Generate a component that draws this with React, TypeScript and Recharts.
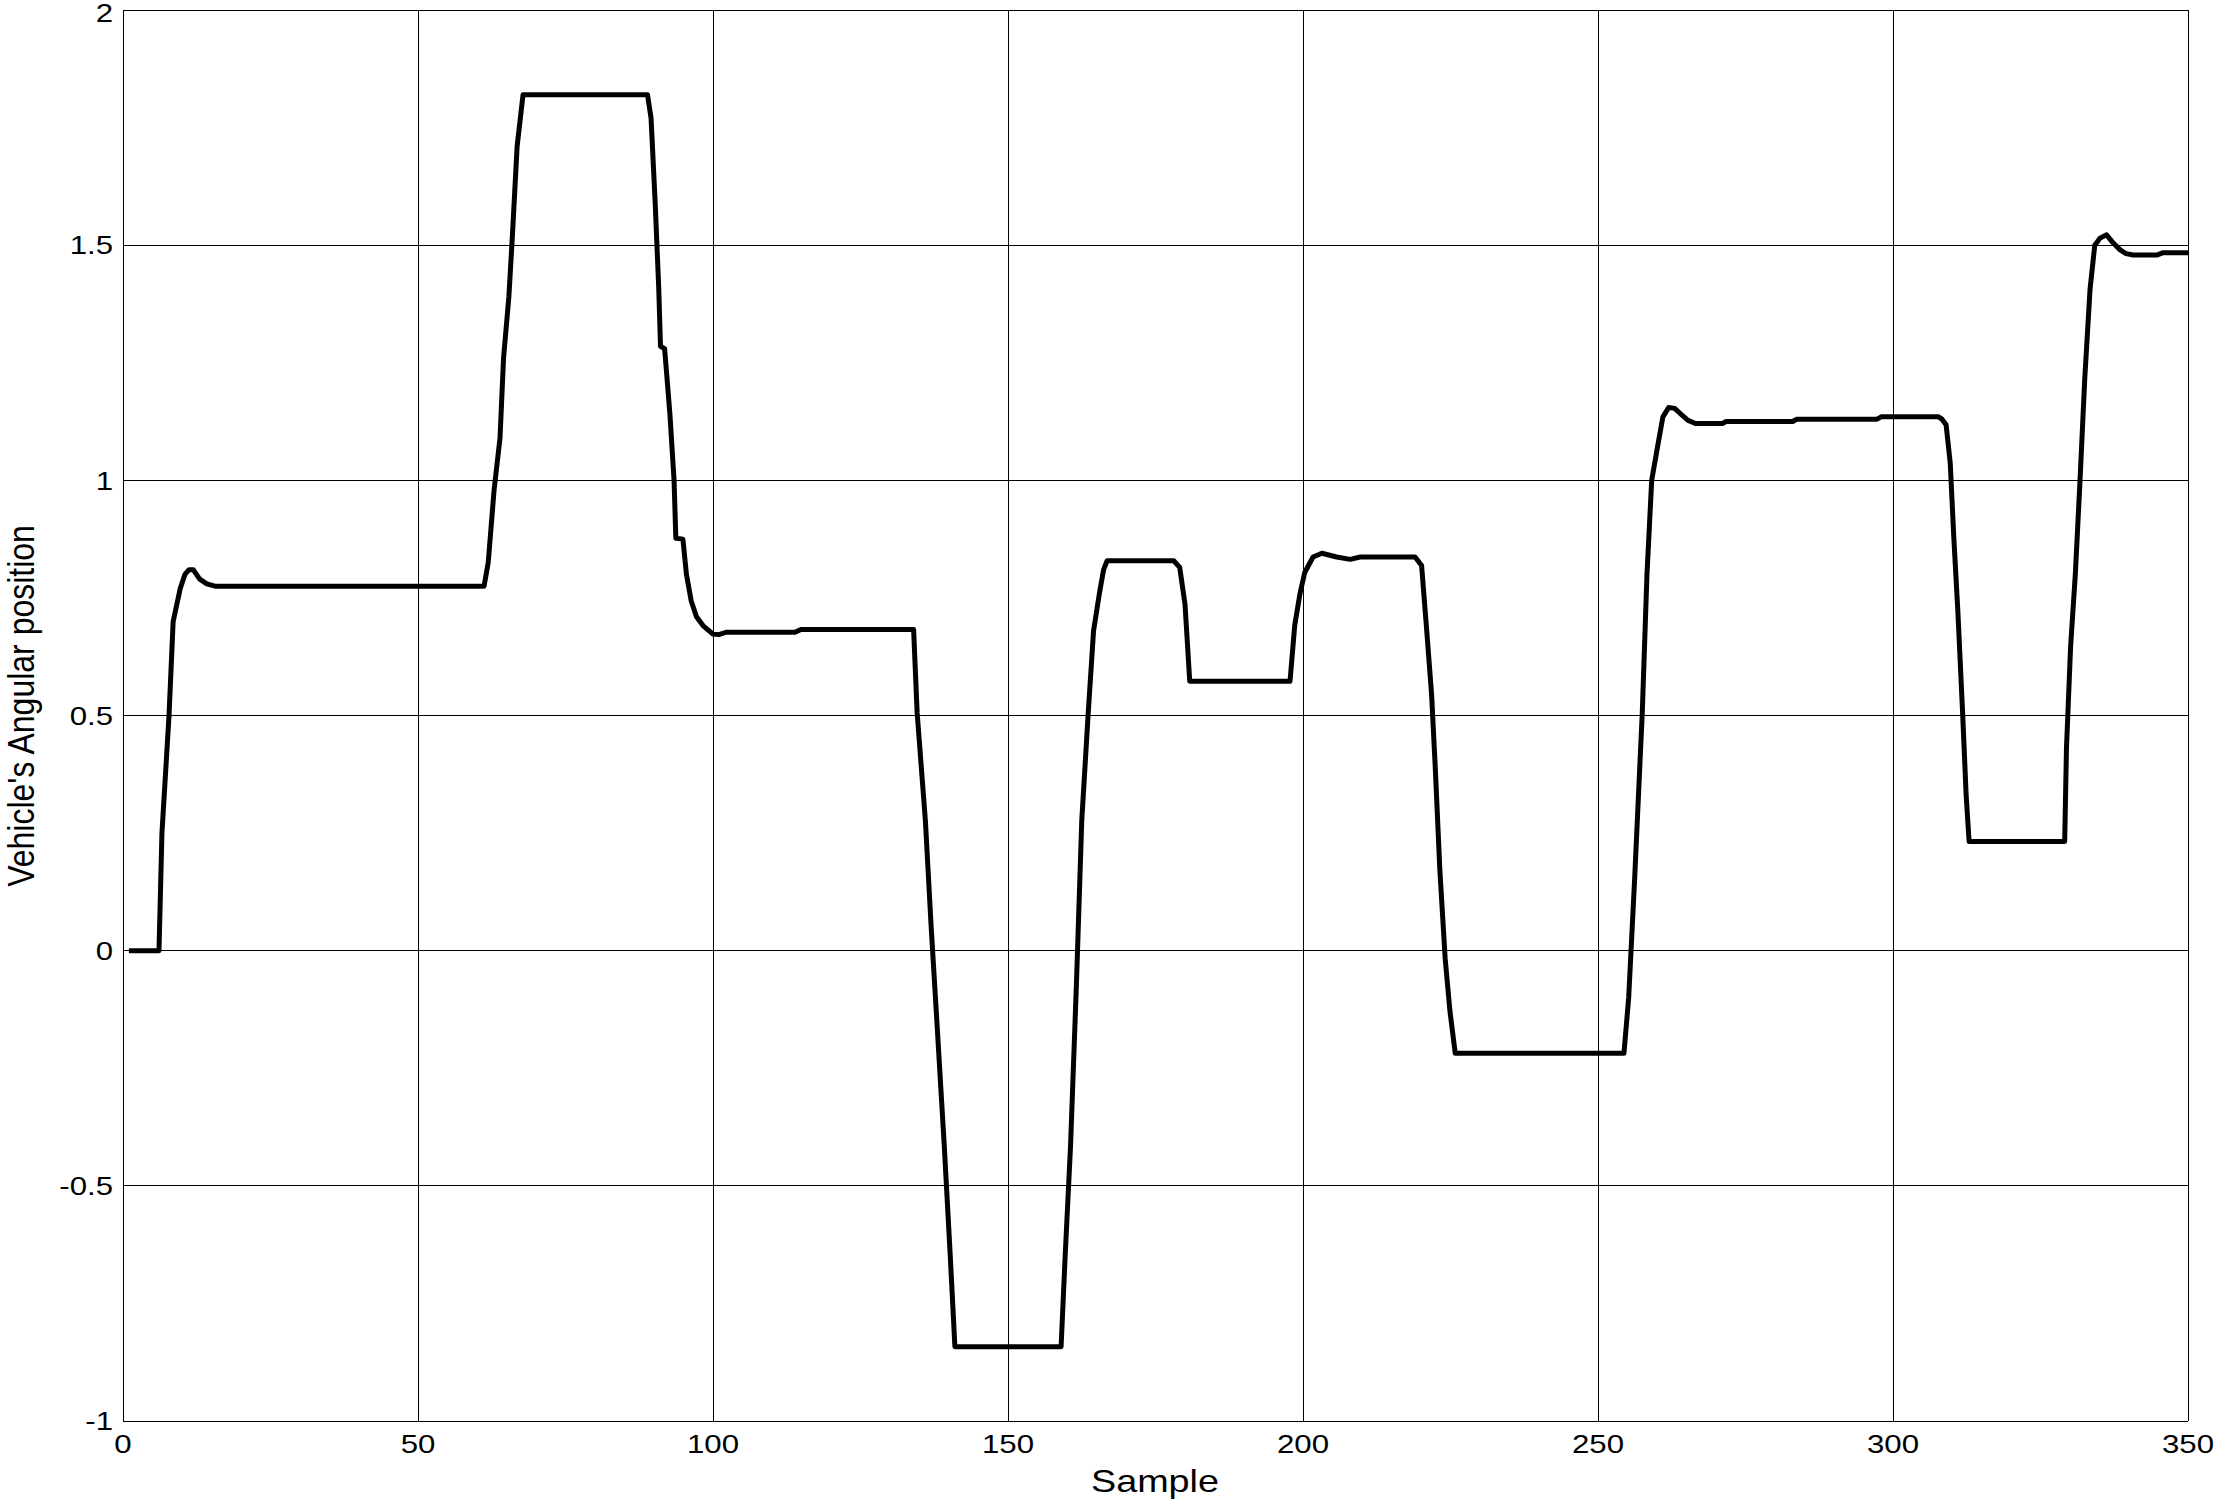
import { LineChart, Line, XAxis, YAxis, CartesianGrid } from 'recharts'

// ─── data ───────────────────────────────────────────

const sampleX = [
  1, 6.1, 6.6, 7.8, 8.5, 9.7, 10.5, 11.2, 11.9, 13, 14.2, 15.6, 61.2, 61.9, 62.9, 63.9, 64.5,
  65.4, 66, 66.8, 67.8, 88.9, 89.5, 90.2, 90.8, 91.1, 91.8, 92.7, 93.4, 93.7, 94.9, 95.5, 96.3,
  97.2, 98.4, 100, 101, 102.2, 113.9, 114.9, 134, 134.6, 136, 137, 138, 138.6, 139.2, 140.2, 141,
  159, 159.7, 160.6, 161.6, 162.5, 163.6, 164.5, 165.5, 166.2, 166.8, 178.1, 179.1, 180, 180.8,
  197.8, 198.6, 199.5, 200.3, 201.7, 203.2, 205.7, 208, 209.7, 219, 220.1, 220.9, 221.8, 222.4,
  223.2, 224.1, 224.9, 225.8, 254.4, 255.2, 256.2, 257.5, 258.3, 259.1, 260.1, 261, 262, 263,
  264.2, 265.2, 266.5, 271.1, 271.7, 283, 283.7, 297.3, 298, 307.7, 308.3, 309, 309.7, 310.3,
  311, 311.8, 312.4, 312.9, 329.1, 329.4, 330.1, 330.9, 331.7, 332.5, 333.4, 334.2, 335.1, 336.2,
  337.3, 338.5, 339.5, 340.7, 344.7, 345.8, 350,
]

const angularPosition = [
  0, 0, 0.25, 0.5, 0.7, 0.77, 0.8, 0.81, 0.81, 0.79, 0.78, 0.775, 0.775, 0.825, 0.98, 1.09, 1.26,
  1.39, 1.52, 1.71, 1.82, 1.82, 1.77, 1.59, 1.41, 1.285, 1.28, 1.14, 1.0, 0.877, 0.875, 0.8, 0.744,
  0.71, 0.69, 0.673, 0.672, 0.677, 0.677, 0.683, 0.683, 0.506, 0.276, 0.046, -0.162, -0.289, -0.415,
  -0.646, -0.842, -0.842, -0.646, -0.415, -0.07, 0.276, 0.506, 0.68, 0.76, 0.81, 0.829, 0.829,
  0.815, 0.737, 0.573, 0.573, 0.692, 0.76, 0.804, 0.837, 0.845, 0.837, 0.832, 0.837, 0.837, 0.819,
  0.692, 0.544, 0.394, 0.17, -0.017, -0.128, -0.218, -0.218, -0.1, 0.15, 0.505, 0.8, 1.0, 1.072,
  1.135, 1.155, 1.153, 1.139, 1.128, 1.121, 1.121, 1.125, 1.125, 1.13, 1.13, 1.135, 1.135, 1.13,
  1.118, 1.037, 0.88, 0.72, 0.505, 0.33, 0.232, 0.232, 0.43, 0.646, 0.8, 1.0, 1.216, 1.407, 1.5,
  1.515, 1.522, 1.505, 1.49, 1.482, 1.479, 1.479, 1.484, 1.484,
]

const xTicks = [0, 50, 100, 150, 200, 250, 300, 350]
const yTicks = [-1, -0.5, 0, 0.5, 1, 1.5, 2]

const FONT = '"Liberation Sans", Arial, Helvetica, sans-serif'
// the source figure is stretched a bit horizontally
const STRETCH = 1.2

function XTick({ x, y, payload }: any) {
  return (
    <g transform={`translate(${x},${y}) scale(${STRETCH},1)`}>
      <text x={0} y={0} dy="0.71em" textAnchor="middle" fontSize={26} fontFamily={FONT} fill="#000">
        {payload.value}
      </text>
    </g>
  )
}

function YTick({ x, y, payload }: any) {
  // top label sits right on the frame edge, nudge it down a touch
  const dy = payload.value === 2 ? '0.45em' : '0.355em'
  return (
    <g transform={`translate(${x},${y}) scale(${STRETCH},1)`}>
      <text x={0} y={0} dy={dy} textAnchor="end" fontSize={26} fontFamily={FONT} fill="#000">
        {payload.value}
      </text>
    </g>
  )
}

export default function App() {
  const data = sampleX.map((x, i) => ({ x, angle: angularPosition[i] }))

  return (
    <div style={{ position: 'absolute', left: 0, top: 0, background: '#fff' }}>
      <LineChart
        width={2220}
        height={1501}
        data={data}
        margin={{ top: 10, right: 32, left: 0, bottom: 0 }}
      >
        <CartesianGrid stroke="#000" strokeWidth={1} shapeRendering="crispEdges" />
        <XAxis
          dataKey="x"
          type="number"
          domain={[0, 350]}
          ticks={xTicks}
          height={80}
          tickLine={false}
          tickSize={12}
          tickMargin={2}
          axisLine={{ stroke: '#000', shapeRendering: 'crispEdges' }}
          tick={(p: any) => <XTick {...p} />}
          label={() => (
            <g transform={`translate(1155,1492) scale(1.18,1)`}>
              <text textAnchor="middle" fontSize={32} fontFamily={FONT} fill="#000">
                Sample
              </text>
            </g>
          )}
        />
        <YAxis
          type="number"
          domain={[-1, 2]}
          ticks={yTicks}
          width={123}
          tickLine={false}
          tickSize={8}
          tickMargin={2}
          axisLine={{ stroke: '#000', shapeRendering: 'crispEdges' }}
          tick={(p: any) => <YTick {...p} />}
          label={() => (
            <g transform={`translate(34,706) scale(1.15,1) rotate(-90)`}>
              <text textAnchor="middle" fontSize={32} fontFamily={FONT} fill="#000">
                Vehicle's Angular position
              </text>
            </g>
          )}
        />
        <Line
          type="linear"
          dataKey="angle"
          stroke="#000"
          strokeWidth={5}
          strokeLinejoin="round"
          dot={false}
          isAnimationActive={false}
        />
      </LineChart>
    </div>
  )
}
